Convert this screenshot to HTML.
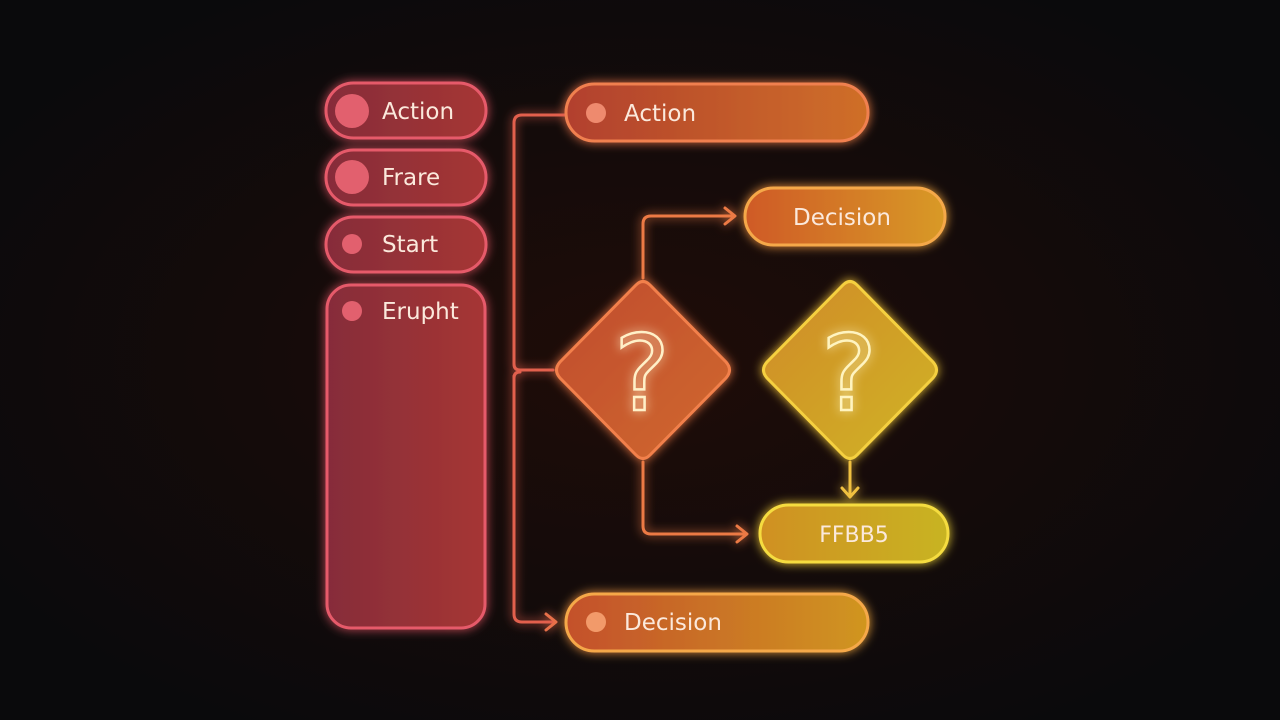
<!DOCTYPE html>
<html><head><meta charset="utf-8"><style>
html,body{margin:0;padding:0;background:#0b0a0c;width:1280px;height:720px;overflow:hidden}
svg{display:block}
text{font-family:"DejaVu Sans","Liberation Sans",sans-serif;fill:#fbe9dc}
</style></head><body>
<svg width="1280" height="720" viewBox="0 0 1280 720">
<defs>
<radialGradient id="bg" cx="50%" cy="50%" r="60%">
<stop offset="0" stop-color="#1f0c08"/><stop offset="1" stop-color="#0a0a0c"/></radialGradient>
<filter id="glow" x="-20%" y="-20%" width="140%" height="140%">
<feGaussianBlur in="SourceGraphic" stdDeviation="5" result="b"/>
<feMerge><feMergeNode in="b"/><feMergeNode in="SourceGraphic"/></feMerge></filter>
<linearGradient id="gl" x1="0" x2="1"><stop offset="0" stop-color="#862c3a"/><stop offset="1" stop-color="#a63634"/></linearGradient>
<linearGradient id="ga" x1="0" x2="1"><stop offset="0" stop-color="#b2402e"/><stop offset="1" stop-color="#cf6f28"/></linearGradient>
<linearGradient id="gd" x1="0" x2="1"><stop offset="0" stop-color="#cf5a28"/><stop offset="1" stop-color="#d89a26"/></linearGradient>
<linearGradient id="gb" x1="0" x2="1"><stop offset="0" stop-color="#c4502c"/><stop offset="1" stop-color="#d0961f"/></linearGradient>
<linearGradient id="gf" x1="0" x2="1"><stop offset="0" stop-color="#d09020"/><stop offset="1" stop-color="#c8b420"/></linearGradient>
<linearGradient id="g1" x1="0" y1="0" x2="1" y2="1"><stop offset="0" stop-color="#c04a30"/><stop offset="1" stop-color="#d06a2c"/></linearGradient>
<linearGradient id="g2" x1="0" y1="0" x2="1" y2="1"><stop offset="0" stop-color="#d08a2a"/><stop offset="1" stop-color="#d0b424"/></linearGradient>
</defs>
<rect width="1280" height="720" fill="url(#bg)"/>

<g filter="url(#glow)">
<g fill="none" stroke-width="3" stroke-linecap="round" stroke-linejoin="round">
<path d="M566 115 H522 Q514 115 514 123 V364 Q514 370 520 370 H553" stroke="#e2604e"/>
<path d="M514 378 Q514 372 520 372 M514 376 V614 Q514 622 522 622 H554" stroke="#e2604e"/>
<path d="M546 614 L556 622 L546 630" stroke="#e8704a"/>
<path d="M643 278 V224 Q643 216 651 216 H734" stroke="#ec7a44"/>
<path d="M725 208 L735 216 L725 224" stroke="#ec7a44"/>
<path d="M643 462 V526 Q643 534 651 534 H746" stroke="#ec7a44"/>
<path d="M737 526 L747 534 L737 542" stroke="#ec7a44"/>
<path d="M850 462 V496" stroke="#f0c040"/>
<path d="M842 488 L850 497 L858 488" stroke="#f0c040"/>
</g>

<g stroke="#e65a6a" stroke-width="3">
<rect x="326" y="83" width="160" height="55" rx="27.5" fill="url(#gl)"/>
<rect x="326" y="150" width="160" height="55" rx="27.5" fill="url(#gl)"/>
<rect x="326" y="217" width="160" height="55" rx="27.5" fill="url(#gl)"/>
<rect x="327" y="285" width="158" height="343" rx="24" fill="url(#gl)"/>
</g>
<g fill="#e2606e">
<circle cx="352" cy="111" r="17"/><circle cx="352" cy="177" r="17"/>
<circle cx="352" cy="244" r="10"/><circle cx="352" cy="311" r="10"/>
</g>

<rect x="566" y="84" width="302" height="57" rx="28.5" fill="url(#ga)" stroke="#f08050" stroke-width="3"/>
<circle cx="596" cy="113" r="10" fill="#ee8a6e"/>
<rect x="745" y="188" width="200" height="57" rx="28.5" fill="url(#gd)" stroke="#f5a848" stroke-width="3"/>
<rect x="760" y="505" width="188" height="57" rx="28.5" fill="url(#gf)" stroke="#f5dc40" stroke-width="3"/>
<rect x="566" y="594" width="302" height="57" rx="28.5" fill="url(#gb)" stroke="#f5a848" stroke-width="3"/>
<circle cx="596" cy="622" r="10" fill="#f29a6a"/>

<path d="M636 285 Q643 278 650 285 L726 362 Q733 370 726 378 L650 455 Q643 462 636 455 L560 378 Q553 370 560 362 Z" fill="url(#g1)" stroke="#f2804c" stroke-width="3"/>
<path d="M843 285 Q850 278 857 285 L933 362 Q940 370 933 378 L857 455 Q850 462 843 455 L767 378 Q760 370 767 362 Z" fill="url(#g2)" stroke="#f5d040" stroke-width="3"/>
</g>

<g font-size="23">
<text x="382" y="119">Action</text>
<text x="382" y="185">Frare</text>
<text x="382" y="252">Start</text>
<text x="382" y="319">Erupht</text>
<text x="624" y="121">Action</text>
<text x="842" y="225" text-anchor="middle">Decision</text>
<text x="854" y="542" text-anchor="middle" font-size="22">FFBB5</text>
<text x="624" y="630">Decision</text>
</g>
<g filter="url(#glow)">
<text x="642" y="410" font-size="105" text-anchor="middle" style="fill:none;stroke:#fff0c8;stroke-width:2.5">?</text>
<text x="849" y="410" font-size="105" text-anchor="middle" style="fill:none;stroke:#fff4c0;stroke-width:2.5">?</text>
</g>
</svg>
</body></html>
